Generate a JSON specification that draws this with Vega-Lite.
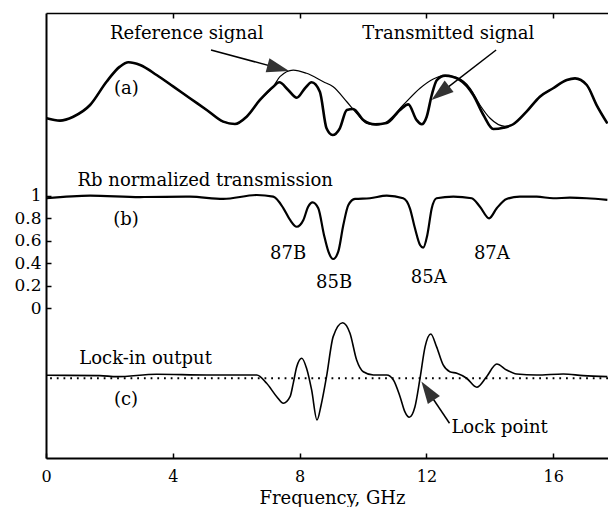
{
  "$schema": "https://vega.github.io/schema/vega-lite/v6.json",
  "width": 562,
  "height": 445,
  "autosize": {"type": "none"},
  "padding": {"left": 46, "top": 13, "right": 0, "bottom": 49},
  "background": "white",
  "config": {
    "view": {"stroke": null},
    "axis": {"grid": false, "domainColor": "black", "tickColor": "black", "labelColor": "black", "labelFont": "DejaVu Serif", "titleFont": "DejaVu Serif", "titleColor": "black", "titleFontWeight": "normal"}
  },
  "resolve": {"axis": {"x": "independent", "y": "independent"}},
  "datasets": {
    "curves": [
      {"s":"ref","f":0.02,"v":1.689},{"s":"ref","f":0.44,"v":1.668},{"s":"ref","f":0.86,"v":1.703},{"s":"ref","f":1.39,"v":1.807},{"s":"ref","f":1.91,"v":2.014},{"s":"ref","f":2.33,"v":2.148},{"s":"ref","f":2.60,"v":2.187},{"s":"ref","f":2.97,"v":2.163},{"s":"ref","f":3.49,"v":2.074},{"s":"ref","f":4.02,"v":1.970},{"s":"ref","f":4.54,"v":1.867},{"s":"ref","f":5.07,"v":1.763},{"s":"ref","f":5.59,"v":1.659},{"s":"ref","f":5.96,"v":1.638},{"s":"ref","f":6.33,"v":1.703},{"s":"ref","f":6.75,"v":1.852},{"s":"ref","f":7.17,"v":1.970},{"s":"ref","f":7.38,"v":2.059},{"s":"ref","f":7.80,"v":2.118},{"s":"ref","f":8.22,"v":2.089},{"s":"ref","f":8.75,"v":2.014},{"s":"ref","f":9.06,"v":1.970},{"s":"ref","f":9.49,"v":1.836},{"s":"ref","f":9.80,"v":1.733},{"s":"ref","f":10.12,"v":1.644},{"s":"ref","f":10.43,"v":1.629},{"s":"ref","f":10.75,"v":1.659},{"s":"ref","f":11.27,"v":1.807},{"s":"ref","f":11.80,"v":1.956},{"s":"ref","f":12.22,"v":2.038},{"s":"ref","f":12.59,"v":2.068},{"s":"ref","f":12.96,"v":2.050},{"s":"ref","f":13.38,"v":1.956},{"s":"ref","f":13.69,"v":1.807},{"s":"ref","f":14.01,"v":1.689},{"s":"ref","f":14.48,"v":1.618},{"s":"ref","f":14.74,"v":1.636},{"s":"ref","f":15.16,"v":1.748},{"s":"ref","f":15.58,"v":1.881},{"s":"ref","f":16.00,"v":1.956},{"s":"ref","f":16.43,"v":2.029},{"s":"ref","f":16.69,"v":2.044},{"s":"ref","f":17.06,"v":1.985},{"s":"ref","f":17.37,"v":1.807},{"s":"ref","f":17.71,"v":1.644},
      {"s":"tr","f":0.02,"v":1.689},{"s":"tr","f":0.44,"v":1.668},{"s":"tr","f":0.86,"v":1.703},{"s":"tr","f":1.39,"v":1.807},{"s":"tr","f":1.91,"v":2.014},{"s":"tr","f":2.33,"v":2.148},{"s":"tr","f":2.60,"v":2.187},{"s":"tr","f":2.97,"v":2.163},{"s":"tr","f":3.49,"v":2.074},{"s":"tr","f":4.02,"v":1.970},{"s":"tr","f":4.54,"v":1.867},{"s":"tr","f":5.07,"v":1.763},{"s":"tr","f":5.59,"v":1.659},{"s":"tr","f":5.96,"v":1.638},{"s":"tr","f":6.33,"v":1.703},{"s":"tr","f":6.75,"v":1.852},{"s":"tr","f":7.17,"v":1.970},{"s":"tr","f":7.36,"v":2.009},{"s":"tr","f":7.64,"v":1.940},{"s":"tr","f":7.91,"v":1.872},{"s":"tr","f":8.17,"v":1.956},{"s":"tr","f":8.38,"v":2.009},{"s":"tr","f":8.64,"v":1.925},{"s":"tr","f":8.85,"v":1.600},{"s":"tr","f":9.04,"v":1.540},{"s":"tr","f":9.27,"v":1.600},{"s":"tr","f":9.49,"v":1.763},{"s":"tr","f":9.69,"v":1.772},{"s":"tr","f":10.01,"v":1.674},{"s":"tr","f":10.38,"v":1.636},{"s":"tr","f":10.75,"v":1.647},{"s":"tr","f":11.17,"v":1.763},{"s":"tr","f":11.43,"v":1.813},{"s":"tr","f":11.69,"v":1.674},{"s":"tr","f":11.85,"v":1.636},{"s":"tr","f":12.01,"v":1.703},{"s":"tr","f":12.17,"v":1.896},{"s":"tr","f":12.33,"v":2.029},{"s":"tr","f":12.59,"v":2.068},{"s":"tr","f":13.06,"v":2.029},{"s":"tr","f":13.48,"v":1.896},{"s":"tr","f":13.80,"v":1.718},{"s":"tr","f":14.11,"v":1.594},{"s":"tr","f":14.43,"v":1.605},{"s":"tr","f":14.74,"v":1.636},{"s":"tr","f":15.16,"v":1.748},{"s":"tr","f":15.58,"v":1.881},{"s":"tr","f":16.00,"v":1.956},{"s":"tr","f":16.43,"v":2.029},{"s":"tr","f":16.69,"v":2.044},{"s":"tr","f":17.06,"v":1.985},{"s":"tr","f":17.37,"v":1.807},{"s":"tr","f":17.71,"v":1.644},
      {"s":"rb","f":0.02,"v":0.978},{"s":"rb","f":1.39,"v":1.001},{"s":"rb","f":2.97,"v":0.989},{"s":"rb","f":4.54,"v":0.992},{"s":"rb","f":5.59,"v":0.972},{"s":"rb","f":6.65,"v":1.007},{"s":"rb","f":7.17,"v":0.992},{"s":"rb","f":7.49,"v":0.889},{"s":"rb","f":7.70,"v":0.785},{"s":"rb","f":7.91,"v":0.725},{"s":"rb","f":8.12,"v":0.785},{"s":"rb","f":8.27,"v":0.903},{"s":"rb","f":8.41,"v":0.942},{"s":"rb","f":8.59,"v":0.889},{"s":"rb","f":8.77,"v":0.652},{"s":"rb","f":8.91,"v":0.503},{"s":"rb","f":9.06,"v":0.438},{"s":"rb","f":9.22,"v":0.503},{"s":"rb","f":9.38,"v":0.740},{"s":"rb","f":9.54,"v":0.918},{"s":"rb","f":9.75,"v":0.972},{"s":"rb","f":10.22,"v":0.978},{"s":"rb","f":10.75,"v":1.001},{"s":"rb","f":11.27,"v":0.978},{"s":"rb","f":11.48,"v":0.889},{"s":"rb","f":11.64,"v":0.711},{"s":"rb","f":11.80,"v":0.563},{"s":"rb","f":11.90,"v":0.539},{"s":"rb","f":12.03,"v":0.652},{"s":"rb","f":12.17,"v":0.889},{"s":"rb","f":12.32,"v":0.978},{"s":"rb","f":12.85,"v":0.992},{"s":"rb","f":13.43,"v":0.978},{"s":"rb","f":13.69,"v":0.903},{"s":"rb","f":13.98,"v":0.800},{"s":"rb","f":14.22,"v":0.889},{"s":"rb","f":14.53,"v":0.972},{"s":"rb","f":14.95,"v":0.992},{"s":"rb","f":15.48,"v":0.992},{"s":"rb","f":16.00,"v":0.978},{"s":"rb","f":16.53,"v":0.983},{"s":"rb","f":17.06,"v":0.978},{"s":"rb","f":17.71,"v":0.963},
      {"s":"li","f":0.02,"v":-0.596},{"s":"li","f":1.70,"v":-0.599},{"s":"li","f":2.23,"v":-0.608},{"s":"li","f":3.49,"v":-0.587},{"s":"li","f":5.07,"v":-0.593},{"s":"li","f":6.65,"v":-0.593},{"s":"li","f":6.96,"v":-0.667},{"s":"li","f":7.28,"v":-0.786},{"s":"li","f":7.49,"v":-0.844},{"s":"li","f":7.70,"v":-0.786},{"s":"li","f":7.80,"v":-0.667},{"s":"li","f":7.91,"v":-0.519},{"s":"li","f":8.07,"v":-0.444},{"s":"li","f":8.22,"v":-0.533},{"s":"li","f":8.38,"v":-0.726},{"s":"li","f":8.55,"v":-0.993},{"s":"li","f":8.68,"v":-0.860},{"s":"li","f":8.85,"v":-0.608},{"s":"li","f":9.06,"v":-0.252},{"s":"li","f":9.36,"v":-0.128},{"s":"li","f":9.59,"v":-0.222},{"s":"li","f":9.80,"v":-0.460},{"s":"li","f":10.01,"v":-0.564},{"s":"li","f":10.33,"v":-0.593},{"s":"li","f":10.75,"v":-0.593},{"s":"li","f":10.96,"v":-0.637},{"s":"li","f":11.17,"v":-0.786},{"s":"li","f":11.32,"v":-0.919},{"s":"li","f":11.46,"v":-0.969},{"s":"li","f":11.64,"v":-0.875},{"s":"li","f":11.80,"v":-0.622},{"s":"li","f":11.96,"v":-0.341},{"s":"li","f":12.14,"v":-0.228},{"s":"li","f":12.32,"v":-0.341},{"s":"li","f":12.53,"v":-0.504},{"s":"li","f":12.74,"v":-0.564},{"s":"li","f":12.96,"v":-0.578},{"s":"li","f":13.27,"v":-0.622},{"s":"li","f":13.59,"v":-0.702},{"s":"li","f":13.90,"v":-0.608},{"s":"li","f":14.22,"v":-0.495},{"s":"li","f":14.53,"v":-0.548},{"s":"li","f":14.85,"v":-0.584},{"s":"li","f":15.48,"v":-0.593},{"s":"li","f":16.32,"v":-0.584},{"s":"li","f":16.95,"v":-0.599},{"s":"li","f":17.71,"v":-0.608}
    ],
    "notes": [
      {"label":"Reference signal","f":2.02,"v":2.391},
      {"label":"Transmitted signal","f":9.98,"v":2.391},
      {"label":"(a)","f":2.145,"v":1.902},
      {"label":"Rb normalized transmission","f":0.994,"v":1.087},
      {"label":"(b)","f":2.12,"v":0.740},
      {"label":"87B","f":7.07,"v":0.438},
      {"label":"85B","f":8.52,"v":0.178},
      {"label":"85A","f":11.51,"v":0.222},
      {"label":"87A","f":13.50,"v":0.438},
      {"label":"Lock-in output","f":1.05,"v":-0.498},
      {"label":"(c)","f":2.145,"v":-0.86},
      {"label":"Lock point","f":12.79,"v":-1.108}
    ],
    "arrows": [
      {"f":5.205,"v":2.296,"f2":7.33,"v2":2.135},
      {"f":14.20,"v":2.296,"f2":12.44,"v2":1.912},
      {"f":12.73,"v":-1.022,"f2":12.04,"v2":-0.733}
    ]
  },
  "layer": [
    {
      "data": {"name": "curves"},
      "transform": [{"filter": "datum.s === 'ref'"}],
      "mark": {"type": "line", "color": "black", "strokeWidth": 1.2, "interpolate": "monotone"},
      "encoding": {
        "x": {"field": "f", "type": "quantitative", "scale": {"domain": [0, 17.73], "nice": false, "zero": false},
          "axis": {"orient": "bottom", "values": [0, 4, 8, 12, 16], "tickSize": -5, "tickWidth": 1.5, "domainWidth": 2, "labelFontSize": 16, "labelPadding": 15, "labelFlush": false, "title": "Frequency, GHz", "titleFontSize": 18, "titleX": 286, "titleY": 45, "titleAlign": "center", "titleBaseline": "alphabetic"}},
        "y": {"field": "v", "type": "quantitative", "scale": {"domain": [-1.331, 2.625], "nice": false, "zero": false},
          "axis": {"orient": "left", "values": [0, 0.2, 0.4, 0.6, 0.8, 1], "format": "~g", "tickSize": -5, "tickWidth": 1.5, "domain": true, "domainWidth": 2, "labels": true, "labelFontSize": 17, "labelPadding": 10, "labelFlush": false, "labelOverlap": false, "title": null}}
      }
    },
    {
      "data": {"name": "curves"},
      "transform": [{"filter": "datum.s === 'tr'"}],
      "mark": {"type": "line", "color": "black", "strokeWidth": 2.6, "interpolate": "monotone"},
      "encoding": {
        "x": {"field": "f", "type": "quantitative", "scale": {"domain": [0, 17.73], "nice": false, "zero": false},
          "axis": {"orient": "top", "values": [4, 8, 12, 16], "tickSize": -5, "tickWidth": 1.5, "domainWidth": 1.5, "labels": false, "title": null}},
        "y": {"field": "v", "type": "quantitative", "scale": {"domain": [-1.331, 2.625], "nice": false, "zero": false}, "axis": null}
      }
    },
    {
      "data": {"name": "curves"},
      "transform": [{"filter": "datum.s === 'rb'"}],
      "mark": {"type": "line", "color": "black", "strokeWidth": 2.2, "interpolate": "monotone"},
      "encoding": {
        "x": {"field": "f", "type": "quantitative", "scale": {"domain": [0, 17.73], "nice": false, "zero": false}, "axis": null},
        "y": {"field": "v", "type": "quantitative", "scale": {"domain": [-1.331, 2.625], "nice": false, "zero": false}, "axis": null}
      }
    },
    {
      "data": {"name": "curves"},
      "transform": [{"filter": "datum.s === 'li'"}],
      "mark": {"type": "line", "color": "black", "strokeWidth": 1.6, "interpolate": "monotone"},
      "encoding": {
        "x": {"field": "f", "type": "quantitative", "scale": {"domain": [0, 17.73], "nice": false, "zero": false}, "axis": null},
        "y": {"field": "v", "type": "quantitative", "scale": {"domain": [-1.331, 2.625], "nice": false, "zero": false}, "axis": null}
      }
    },
    {
      "data": {"values": [{"zero": -0.622}]},
      "mark": {"type": "rule", "color": "black", "strokeWidth": 1.8, "strokeDash": [1.8, 4.9]},
      "encoding": {
        "y": {"field": "zero", "type": "quantitative", "scale": {"domain": [-1.331, 2.625], "nice": false, "zero": false}, "axis": null}
      }
    },
    {
      "data": {"name": "arrows"},
      "mark": {"type": "rule", "color": "black", "strokeWidth": 1.5},
      "encoding": {
        "x": {"field": "f", "type": "quantitative", "scale": {"domain": [0, 17.73], "nice": false, "zero": false}, "axis": null},
        "y": {"field": "v", "type": "quantitative", "scale": {"domain": [-1.331, 2.625], "nice": false, "zero": false}, "axis": null},
        "x2": {"field": "f2"},
        "y2": {"field": "v2"}
      }
    },
    {
      "data": {"values": [{"f": 7.33, "v": 2.135}]},
      "mark": {"type": "point", "shape": "M0,-1L-0.65,1L0.65,1Z", "size": 500, "filled": true, "color": "#333333", "opacity": 1, "angle": 105},
      "encoding": {
        "x": {"field": "f", "type": "quantitative", "scale": {"domain": [0, 17.73], "nice": false, "zero": false}, "axis": null},
        "y": {"field": "v", "type": "quantitative", "scale": {"domain": [-1.331, 2.625], "nice": false, "zero": false}, "axis": null}
      }
    },
    {
      "data": {"values": [{"f": 12.44, "v": 1.912}]},
      "mark": {"type": "point", "shape": "M0,-1L-0.65,1L0.65,1Z", "size": 500, "filled": true, "color": "#333333", "opacity": 1, "angle": -128},
      "encoding": {
        "x": {"field": "f", "type": "quantitative", "scale": {"domain": [0, 17.73], "nice": false, "zero": false}, "axis": null},
        "y": {"field": "v", "type": "quantitative", "scale": {"domain": [-1.331, 2.625], "nice": false, "zero": false}, "axis": null}
      }
    },
    {
      "data": {"values": [{"f": 12.04, "v": -0.733}]},
      "mark": {"type": "point", "shape": "M0,-1L-0.65,1L0.65,1Z", "size": 500, "filled": true, "color": "#333333", "opacity": 1, "angle": -34},
      "encoding": {
        "x": {"field": "f", "type": "quantitative", "scale": {"domain": [0, 17.73], "nice": false, "zero": false}, "axis": null},
        "y": {"field": "v", "type": "quantitative", "scale": {"domain": [-1.331, 2.625], "nice": false, "zero": false}, "axis": null}
      }
    },
    {
      "data": {"name": "notes"},
      "mark": {"type": "text", "align": "left", "baseline": "alphabetic", "font": "DejaVu Serif", "fontSize": 18, "color": "black"},
      "encoding": {
        "x": {"field": "f", "type": "quantitative", "scale": {"domain": [0, 17.73], "nice": false, "zero": false}, "axis": null},
        "y": {"field": "v", "type": "quantitative", "scale": {"domain": [-1.331, 2.625], "nice": false, "zero": false}, "axis": null},
        "text": {"field": "label"}
      }
    }
  ]
}
